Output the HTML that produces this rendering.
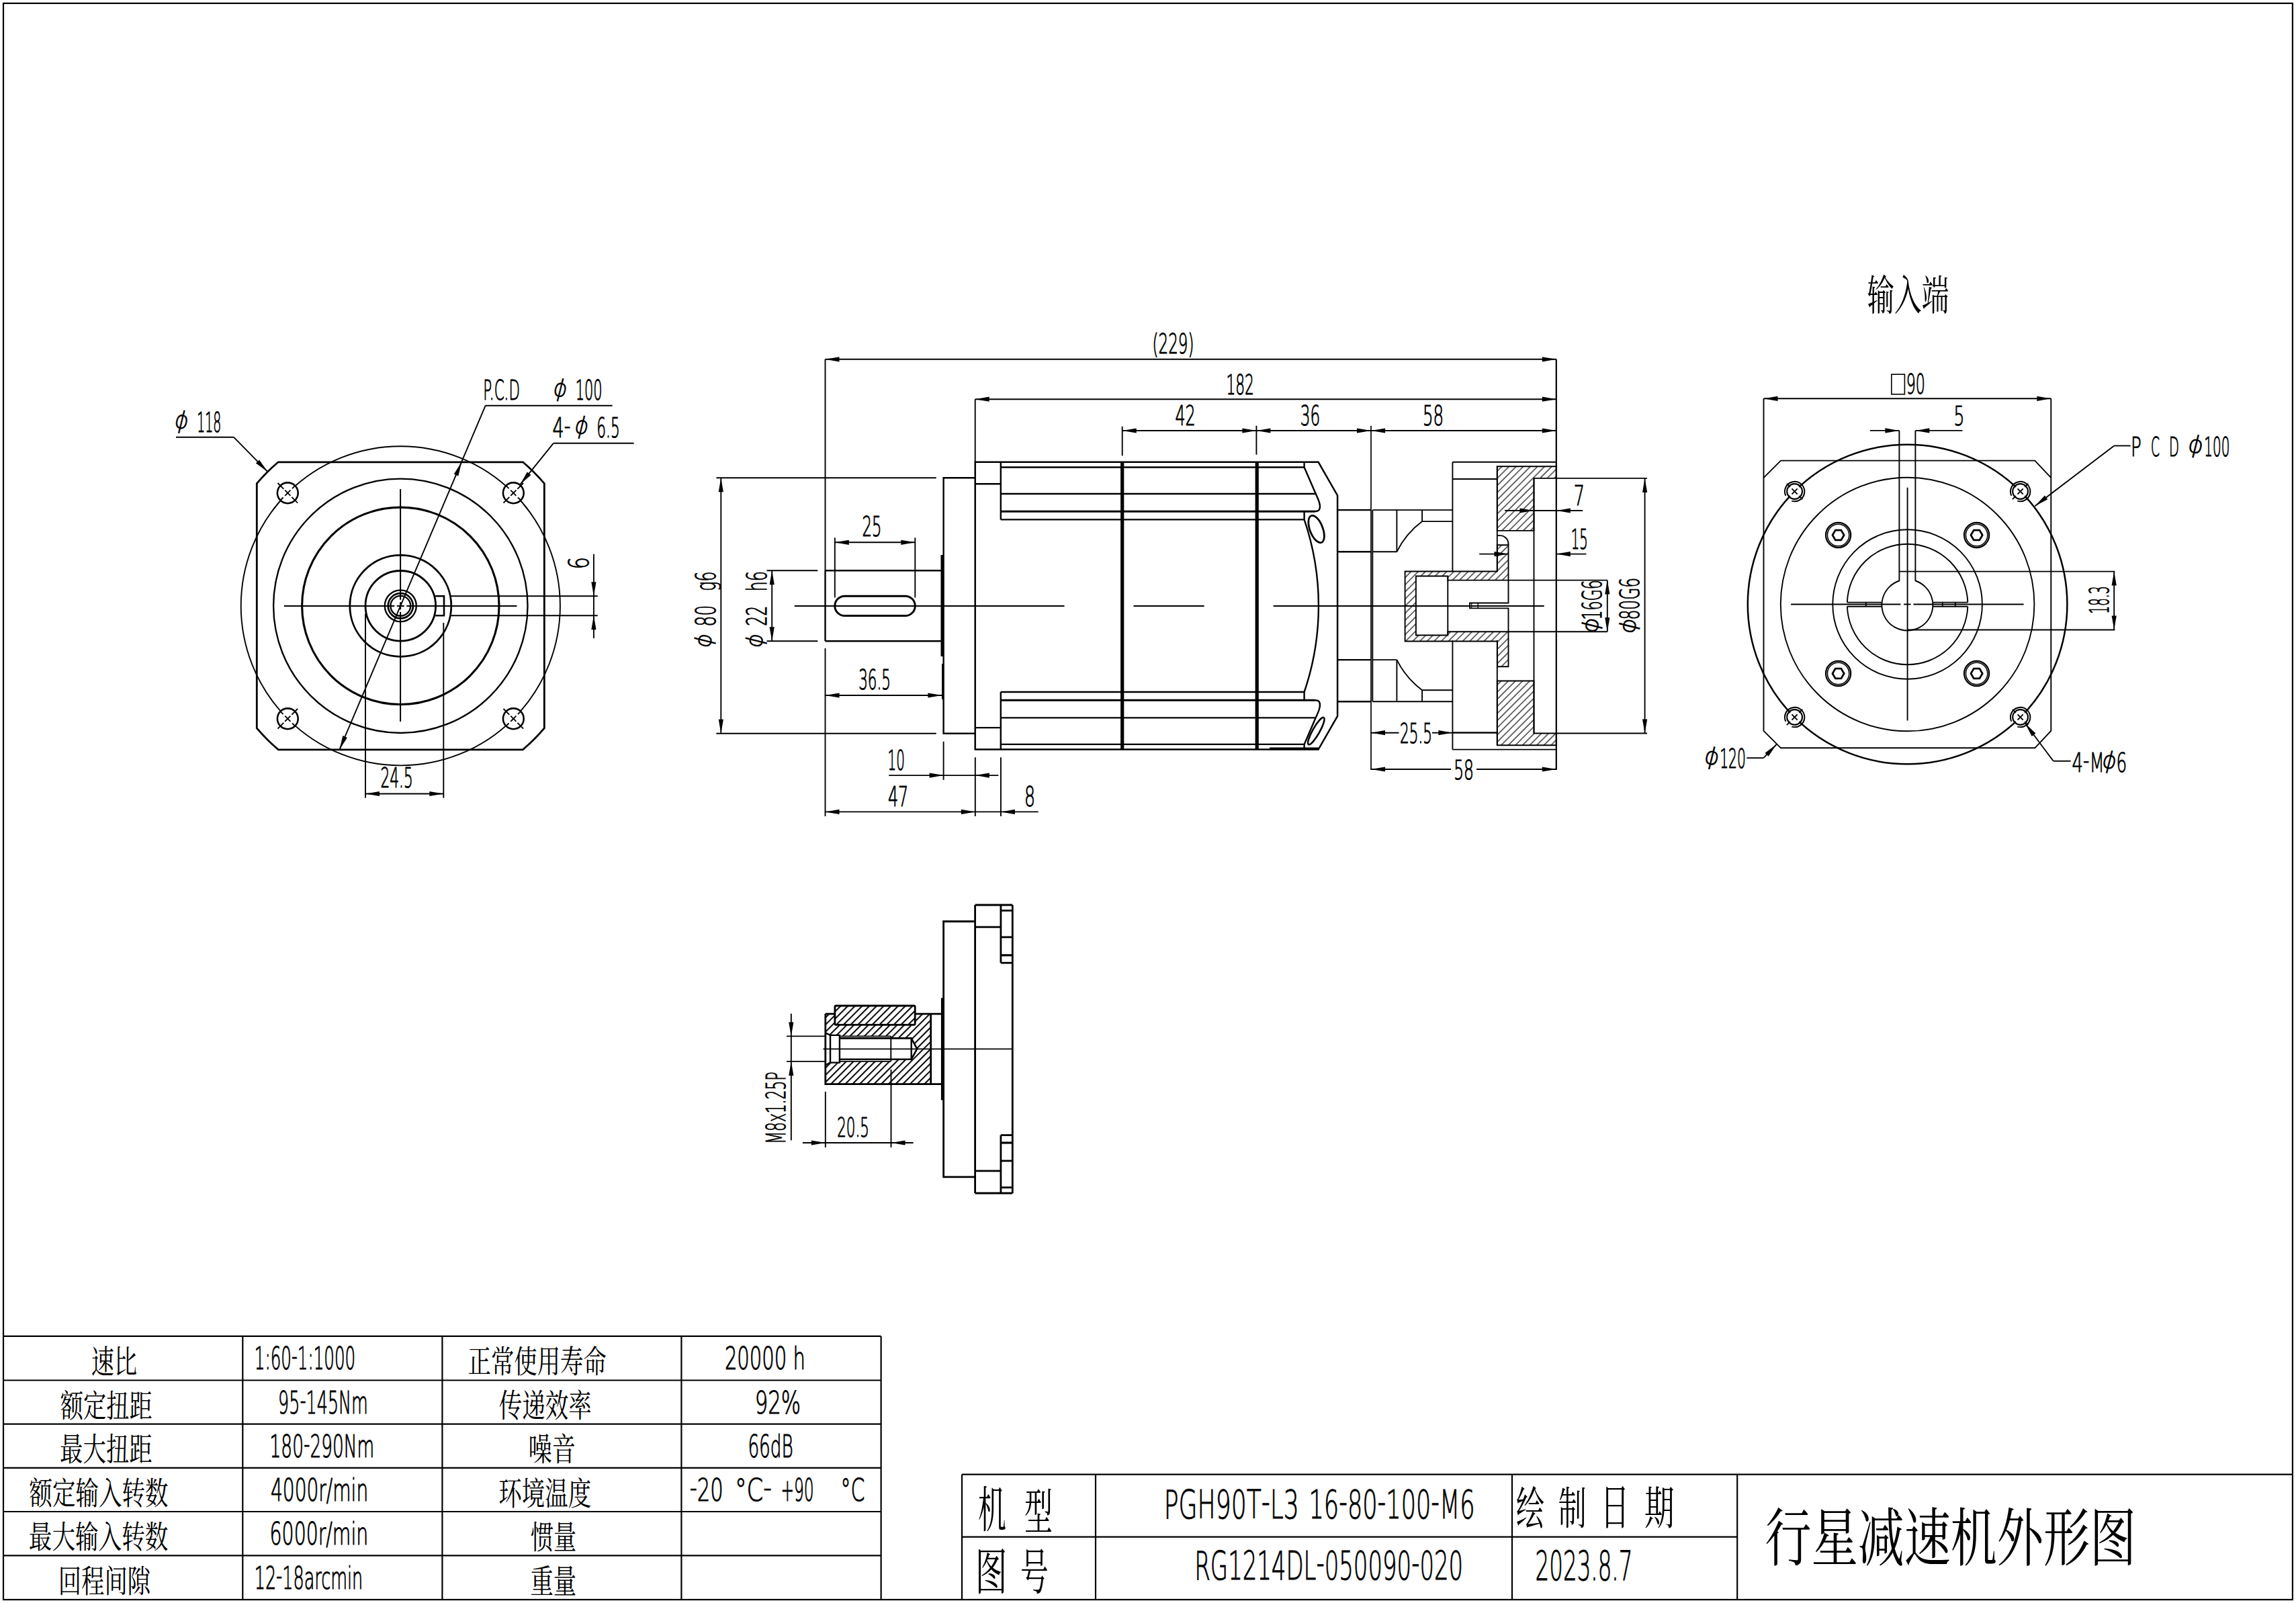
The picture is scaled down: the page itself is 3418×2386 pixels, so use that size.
<!DOCTYPE html>
<html lang="zh"><head><meta charset="utf-8"><title>行星减速机外形图</title>
<style>html,body{margin:0;padding:0;background:#fff}svg{display:block}.t{vector-effect:non-scaling-stroke;stroke:#000;fill:#000}</style></head>
<body>
<svg width="3418" height="2386" viewBox="0 0 3418 2386" fill="none" stroke="#000" stroke-linecap="butt" stroke-linejoin="miter">
<defs><pattern id="h1" width="7.5" height="7.5" patternUnits="userSpaceOnUse" patternTransform="rotate(45)"><path d="M2,0V7.5" stroke="#000" stroke-width="1.15"/></pattern><pattern id="h2" width="7.57" height="7.57" patternUnits="userSpaceOnUse" patternTransform="rotate(45)"><path d="M2,0V7.57" stroke="#000" stroke-width="2"/></pattern><pattern id="h3" width="7.57" height="7.57" patternUnits="userSpaceOnUse" patternTransform="rotate(45) translate(3.8,0)"><path d="M2,0V7.57" stroke="#000" stroke-width="2"/></pattern></defs>
<rect x="0" y="0" width="3418" height="2386" fill="#fff" stroke="none"/>
<rect x="5" y="4.9" width="3407.9" height="2376.1" stroke-width="2.2"/>
<path d="M414.2,687.8L778.4,687.8A281.0,281.0 0 0 1 810.3,719.7L810.3,1083.9A281.0,281.0 0 0 1 778.4,1115.8L414.2,1115.8A281.0,281.0 0 0 1 382.3,1083.9L382.3,719.7A281.0,281.0 0 0 1 414.2,687.8Z" stroke-width="2.8" fill="none" />
<circle cx="596.3" cy="901.8" r="237.6" stroke-width="1.9" fill="none" />
<circle cx="596.3" cy="901.8" r="189.2" stroke-width="2.35" fill="none" />
<circle cx="596.3" cy="901.8" r="146.7" stroke-width="3.1" fill="none" />
<circle cx="596.3" cy="901.8" r="75.5" stroke-width="2.8" fill="none" />
<circle cx="596.3" cy="901.8" r="52.3" stroke-width="2.8" fill="none" />
<circle cx="596.3" cy="901.8" r="23.5" stroke-width="2.3" fill="none" />
<circle cx="596.3" cy="901.8" r="18.6" stroke-width="2.7" fill="none" />
<circle cx="596.3" cy="901.8" r="14.9" stroke-width="2.3" fill="none" />
<circle cx="428.3" cy="733.8" r="15.4" stroke-width="2.6" fill="#fff" />
<path d="M443.1,748.6L434.3,739.8" stroke-width="1.9" />
<path d="M432.4,737.9L424.2,729.7" stroke-width="1.9" />
<path d="M422.3,727.8L413.5,719" stroke-width="1.9" />
<path d="M417.4,744.7L421.6,740.5" stroke-width="1.9" />
<path d="M424.2,737.9L432.4,729.7" stroke-width="1.9" />
<path d="M435,727.1L439.2,722.9" stroke-width="1.9" />
<circle cx="764.3" cy="733.8" r="15.4" stroke-width="2.6" fill="#fff" />
<path d="M749.5,748.6L758.3,739.8" stroke-width="1.9" />
<path d="M760.2,737.9L768.4,729.7" stroke-width="1.9" />
<path d="M770.3,727.8L779.1,719" stroke-width="1.9" />
<path d="M753.4,722.9L757.6,727.1" stroke-width="1.9" />
<path d="M760.2,729.7L768.4,737.9" stroke-width="1.9" />
<path d="M771,740.5L775.2,744.7" stroke-width="1.9" />
<circle cx="428.3" cy="1069.8" r="15.4" stroke-width="2.6" fill="#fff" />
<path d="M443.1,1055L434.3,1063.8" stroke-width="1.9" />
<path d="M432.4,1065.7L424.2,1073.9" stroke-width="1.9" />
<path d="M422.3,1075.8L413.5,1084.6" stroke-width="1.9" />
<path d="M439.2,1080.7L435,1076.5" stroke-width="1.9" />
<path d="M432.4,1073.9L424.2,1065.7" stroke-width="1.9" />
<path d="M421.6,1063.1L417.4,1058.9" stroke-width="1.9" />
<circle cx="764.3" cy="1069.8" r="15.4" stroke-width="2.6" fill="#fff" />
<path d="M749.5,1055L758.3,1063.8" stroke-width="1.9" />
<path d="M760.2,1065.7L768.4,1073.9" stroke-width="1.9" />
<path d="M770.3,1075.8L779.1,1084.6" stroke-width="1.9" />
<path d="M775.2,1058.9L771,1063.1" stroke-width="1.9" />
<path d="M768.4,1065.7L760.2,1073.9" stroke-width="1.9" />
<path d="M757.6,1076.5L753.4,1080.7" stroke-width="1.9" />
<path d="M648.2,887.3L661,887.3L661,916.2L648.2,916.2" stroke-width="2.6" fill="none" />
<path d="M422.9,902L587.3,902" stroke-width="2.0" />
<path d="M590.8,902L601.8,902" stroke-width="2.0" />
<path d="M605.3,902L769.5,902" stroke-width="2.0" />
<path d="M596.1,728L596.1,892.8" stroke-width="2.0" />
<path d="M596.1,896.3L596.1,907.3" stroke-width="2.0" />
<path d="M596.1,910.8L596.1,1074" stroke-width="2.0" />
<path d="M671,887.3L889.7,887.3" stroke-width="1.9" />
<path d="M671,916.2L889.7,916.2" stroke-width="1.9" />
<path d="M883.9,887.3L883.9,916.2" stroke-width="1.9" />
<path d="M883.9,887.3L880.3,866.3L887.5,866.3Z" fill="#000" stroke="none"/>
<path d="M883.9,916.2L887.5,937.2L880.3,937.2Z" fill="#000" stroke="none"/>
<path d="M883.9,824.7L883.9,887.3" stroke-width="1.9" />
<path d="M883.9,916.2L883.9,950" stroke-width="1.9" />
<path d="M544,913.4L544,1187.8" stroke-width="1.9" />
<path d="M660.3,927L660.3,1187.8" stroke-width="1.9" />
<path d="M544,1181.5L660.3,1181.5" stroke-width="1.9" />
<path d="M544,1181.5L565,1177.9L565,1185.1Z" fill="#000" stroke="none"/>
<path d="M660.3,1181.5L639.3,1185.1L639.3,1177.9Z" fill="#000" stroke="none"/>
<path d="M722.7,603.7L505.4,1115.8" stroke-width="1.9" />
<path d="M722.7,603.7L911.6,603.7" stroke-width="1.9" />
<path d="M687.2,687.8L682.3,708.5L675.7,705.7Z" fill="#000" stroke="none"/>
<path d="M505.4,1115.8L510.3,1095.1L516.9,1097.9Z" fill="#000" stroke="none"/>
<path d="M262,650.7L347.9,650.7" stroke-width="1.9" />
<path d="M347.9,650.7L398.2,701.9" stroke-width="1.9" />
<path d="M398.2,701.9L380.9,689.4L386.1,684.4Z" fill="#000" stroke="none"/>
<path d="M823.8,659.8L943.6,659.8" stroke-width="1.9" />
<path d="M823.8,659.8L774.4,721.1" stroke-width="1.9" />
<path d="M774.4,721.1L784.8,702.5L790.4,707Z" fill="#000" stroke="none"/>
<path d="M1228.5,849.2L1402.4,849.2" stroke-width="2.4" />
<path d="M1228.5,954.2L1402.4,954.2" stroke-width="2.4" />
<path d="M1228.5,849.2L1228.5,954.2" stroke-width="2.4" />
<path d="M1402.6,826L1402.6,977" stroke-width="4.2" />
<rect x="1242.8" y="887.2" width="119.5" height="29.4" rx="14.7" ry="14.7" stroke-width="3"/>
<path d="M1451.7,711.3L1404.6,711.3L1404.6,1091.8L1451.7,1091.8" stroke-width="2.4" fill="none" />
<path d="M1451.7,687.8L1962.6,687.8L1991.1,737.5L1991.1,1065.9L1962.6,1115.6L1451.7,1115.6Z" stroke-width="2.5" fill="none" />
<path d="M1489.8,687.8L1489.8,773.4" stroke-width="2.4" />
<path d="M1489.8,695.5L1941.6,695.5" stroke-width="2.4" />
<path d="M1451.7,720.3L1489.8,720.3" stroke-width="2.4" />
<path d="M1489.8,735L1958.8,735" stroke-width="2.4" />
<path d="M1489.8,761.2L1957,761.2" stroke-width="2.9" />
<path d="M1489.8,773.4L1941.6,773.4" stroke-width="2.4" />
<path d="M1941.6,687.8L1941.6,695.5" stroke-width="2.4" />
<path d="M1941.6,761.2L1941.6,773.4" stroke-width="2.4" />
<path d="M1941.6,695.5L1958.6,734.8C1962.5,743.5 1966.2,751 1964.6,757C1963.6,760.6 1961,761.2 1956,761.2" stroke-width="2.4" fill="none" />
<path d="M1489.8,1115.6L1489.8,1030" stroke-width="2.4" />
<path d="M1489.8,1107.9L1941.6,1107.9" stroke-width="2.4" />
<path d="M1451.7,1083.1L1489.8,1083.1" stroke-width="2.4" />
<path d="M1489.8,1068.4L1958.8,1068.4" stroke-width="2.4" />
<path d="M1489.8,1042.2L1957,1042.2" stroke-width="2.9" />
<path d="M1489.8,1030L1941.6,1030" stroke-width="2.4" />
<path d="M1941.6,1115.6L1941.6,1107.9" stroke-width="2.4" />
<path d="M1941.6,1042.2L1941.6,1030" stroke-width="2.4" />
<path d="M1941.6,1107.9L1958.6,1068.6C1962.5,1059.9 1966.2,1052.4 1964.6,1046.4C1963.6,1042.8 1961,1042.2 1956,1042.2" stroke-width="2.4" fill="none" />
<path d="M1890,1114.4L1962.8,1114.4" stroke-width="3.8" />
<path d="M1670.7,687.8L1670.7,1115.6" stroke-width="5.2" />
<path d="M1871.2,687.8L1871.2,1115.6" stroke-width="5.2" />
<path d="M1941.6,773.4A396.5,396.5 0 0 1 1941.6,1030" stroke-width="2.4" fill="none" />
<ellipse cx="1959.6" cy="787.6" rx="9.6" ry="21.3" transform="rotate(-21 1959.6 787.6)" stroke-width="2.8"/>
<ellipse cx="1959.3" cy="1088.1" rx="5.2" ry="23" transform="rotate(29.5 1959.3 1088.1)" stroke-width="2.6"/>
<path d="M1991.1,759.1L2041,759.1" stroke-width="2.4" />
<path d="M1991.1,821.3L2041,821.3" stroke-width="2.4" />
<path d="M2043.3,759.1L2162.4,759.1" stroke-width="1.9" />
<path d="M2079.4,759.1L2079.4,821.3" stroke-width="1.9" />
<path d="M2043.3,821.3L2079.4,821.3" stroke-width="1.9" />
<path d="M2079.4,821.3Q2092.8,794.3 2117.1,776.1" stroke-width="1.9" fill="none" />
<path d="M2117.1,776.1L2162.4,776.1" stroke-width="1.9" />
<path d="M2117.1,759.1L2117.1,776.1" stroke-width="1.9" />
<path d="M2162.4,687.8L2162.4,850.5" stroke-width="1.9" />
<path d="M2162.4,687.8L2316.8,687.8" stroke-width="1.9" />
<path d="M2162.4,713L2228.8,713" stroke-width="1.9" />
<path d="M2228.8,694.2L2228.8,850.5" stroke-width="1.9" />
<path d="M2228.8,694.2L2316.8,694.2L2316.8,711.9L2283.5,711.9L2283.5,789.9L2228.8,789.9Z" stroke-width="1.9" fill="url(#h1)" />
<path d="M1991.1,1044.3L2041,1044.3" stroke-width="2.4" />
<path d="M1991.1,982.1L2041,982.1" stroke-width="2.4" />
<path d="M2043.3,1044.3L2162.4,1044.3" stroke-width="1.9" />
<path d="M2079.4,1044.3L2079.4,982.1" stroke-width="1.9" />
<path d="M2043.3,982.1L2079.4,982.1" stroke-width="1.9" />
<path d="M2079.4,982.1Q2092.8,1009.1 2117.1,1027.3" stroke-width="1.9" fill="none" />
<path d="M2117.1,1027.3L2162.4,1027.3" stroke-width="1.9" />
<path d="M2117.1,1044.3L2117.1,1027.3" stroke-width="1.9" />
<path d="M2162.4,1115.6L2162.4,952.9" stroke-width="1.9" />
<path d="M2162.4,1115.6L2316.8,1115.6" stroke-width="1.9" />
<path d="M2162.4,1090.4L2228.8,1090.4" stroke-width="1.9" />
<path d="M2228.8,1109.2L2228.8,952.9" stroke-width="1.9" />
<path d="M2228.8,1109.2L2316.8,1109.2L2316.8,1091.5L2283.5,1091.5L2283.5,1013.5L2228.8,1013.5Z" stroke-width="1.9" fill="url(#h1)" />
<path d="M2043.3,759.1L2043.3,1044.3" stroke-width="1.9" />
<path d="M2041,633.7L2041,1146" stroke-width="1.7" />
<path d="M2283.5,711.9L2283.5,1091.5" stroke-width="1.9" />
<path d="M2316.8,534.8L2316.8,1146" stroke-width="2.2" />
<path d="M2091.6,850.5L2228.8,850.5L2228.8,811.2L2245.5,811.2L2245.5,863.6L2155.3,863.6L2155.3,857.5L2107.9,857.5L2107.9,945.5L2155.3,945.5L2155.3,940.2L2245.5,940.2L2245.5,992.2L2229,992.2L2229,954.5L2091.6,954.5Z" stroke-width="1.9" fill="url(#h1)" />
<path d="M2155.3,857.5L2155.3,945.5" stroke-width="1.9" />
<path d="M2245.5,863.6L2245.5,897.5L2188,897.5L2188,905.4L2245.5,905.4L2245.5,940.2" stroke-width="1.9" fill="none" />
<path d="M2190.7,897.5L2190.7,905.4" stroke-width="1.2" />
<path d="M2200.2,897.5L2200.2,905.4" stroke-width="1.4" />
<path d="M2228.8,797.1H2233A12.5,12.5 0 0 1 2245.5,809.6V811.2" stroke-width="1.9" fill="none" />
<path d="M1182.7,902L1584.5,902" stroke-width="1.9" />
<path d="M1687.5,902L1792.6,902" stroke-width="1.9" />
<path d="M1895.6,902L2298.7,902" stroke-width="1.9" />
<path d="M1228.5,534.8L1228.5,849.2" stroke-width="1.9" />
<path d="M1228.5,534.8L2316.8,534.8" stroke-width="1.9" />
<path d="M1228.5,534.8L1249.5,531.2L1249.5,538.4Z" fill="#000" stroke="none"/>
<path d="M2316.8,534.8L2295.8,538.4L2295.8,531.2Z" fill="#000" stroke="none"/>
<path d="M1451.7,594.2L1451.7,687.8" stroke-width="1.9" />
<path d="M1451.7,594.2L2316.8,594.2" stroke-width="1.9" />
<path d="M1451.7,594.2L1472.7,590.6L1472.7,597.8Z" fill="#000" stroke="none"/>
<path d="M2316.8,594.2L2295.8,597.8L2295.8,590.6Z" fill="#000" stroke="none"/>
<path d="M1670.7,634.8L1670.7,678.4" stroke-width="1.9" />
<path d="M1870.4,633.7L1870.4,676.7" stroke-width="1.9" />
<path d="M1670.7,641L1870.4,641" stroke-width="1.9" />
<path d="M1670.7,641L1691.7,637.4L1691.7,644.6Z" fill="#000" stroke="none"/>
<path d="M1870.4,641L1849.4,644.6L1849.4,637.4Z" fill="#000" stroke="none"/>
<path d="M1870.4,641L2041,641" stroke-width="1.9" />
<path d="M1870.4,641L1891.4,637.4L1891.4,644.6Z" fill="#000" stroke="none"/>
<path d="M2041,641L2020,644.6L2020,637.4Z" fill="#000" stroke="none"/>
<path d="M2041,641L2316.8,641" stroke-width="1.9" />
<path d="M2041,641L2062,637.4L2062,644.6Z" fill="#000" stroke="none"/>
<path d="M2316.8,641L2295.8,644.6L2295.8,637.4Z" fill="#000" stroke="none"/>
<path d="M1242.8,800.3L1242.8,889.4" stroke-width="1.9" />
<path d="M1362.3,800.3L1362.3,889.4" stroke-width="1.9" />
<path d="M1242.8,807.3L1362.3,807.3" stroke-width="1.9" />
<path d="M1242.8,807.3L1263.8,803.7L1263.8,810.9Z" fill="#000" stroke="none"/>
<path d="M1362.3,807.3L1341.3,810.9L1341.3,803.7Z" fill="#000" stroke="none"/>
<path d="M1141.5,849.2L1217.3,849.2" stroke-width="1.9" />
<path d="M1141.5,954.2L1217.3,954.2" stroke-width="1.9" />
<path d="M1149.2,849.2L1149.2,954.2" stroke-width="1.9" />
<path d="M1149.2,849.2L1152.8,870.2L1145.6,870.2Z" fill="#000" stroke="none"/>
<path d="M1149.2,954.2L1145.6,933.2L1152.8,933.2Z" fill="#000" stroke="none"/>
<path d="M1066.4,711.3L1393.7,711.3" stroke-width="1.9" />
<path d="M1066.4,1091.8L1393.7,1091.8" stroke-width="1.9" />
<path d="M1073.3,711.3L1073.3,1091.8" stroke-width="1.9" />
<path d="M1073.3,711.3L1076.9,732.3L1069.7,732.3Z" fill="#000" stroke="none"/>
<path d="M1073.3,1091.8L1069.7,1070.8L1076.9,1070.8Z" fill="#000" stroke="none"/>
<path d="M1228.5,965L1228.5,1215" stroke-width="1.9" />
<path d="M1403,988L1403,1041" stroke-width="1.9" />
<path d="M1228.5,1035L1402.4,1035" stroke-width="1.9" />
<path d="M1228.5,1035L1249.5,1031.4L1249.5,1038.6Z" fill="#000" stroke="none"/>
<path d="M1402.4,1035L1381.4,1038.6L1381.4,1031.4Z" fill="#000" stroke="none"/>
<path d="M1404.6,1103.8L1404.6,1160.8" stroke-width="1.9" />
<path d="M1451.8,1127.3L1451.8,1215" stroke-width="1.9" />
<path d="M1323.2,1154.1L1486.3,1154.1" stroke-width="1.9" />
<path d="M1404.6,1154.1L1383.6,1157.7L1383.6,1150.5Z" fill="#000" stroke="none"/>
<path d="M1451.8,1154.1L1472.8,1150.5L1472.8,1157.7Z" fill="#000" stroke="none"/>
<path d="M1228.5,1208.4L1451.8,1208.4" stroke-width="1.9" />
<path d="M1228.5,1208.4L1249.5,1204.8L1249.5,1212Z" fill="#000" stroke="none"/>
<path d="M1451.8,1208.4L1430.8,1212L1430.8,1204.8Z" fill="#000" stroke="none"/>
<path d="M1489.9,1127.3L1489.9,1215" stroke-width="1.9" />
<path d="M1451.8,1208.4L1545.7,1208.4" stroke-width="1.9" />
<path d="M1489.9,1208.4L1510.9,1204.8L1510.9,1212Z" fill="#000" stroke="none"/>
<path d="M2240.2,760L2356.2,760" stroke-width="1.9" />
<path d="M2283.5,760L2262.5,763.6L2262.5,756.4Z" fill="#000" stroke="none"/>
<path d="M2316.8,760L2337.8,756.4L2337.8,763.6Z" fill="#000" stroke="none"/>
<path d="M2202.2,824.6L2245.5,824.6" stroke-width="1.9" />
<path d="M2245.5,824.6L2224.5,828.2L2224.5,821Z" fill="#000" stroke="none"/>
<path d="M2316.8,824.6L2361.4,824.6" stroke-width="1.9" />
<path d="M2316.8,824.6L2337.8,821L2337.8,828.2Z" fill="#000" stroke="none"/>
<path d="M2245.5,863.6L2392.8,863.6" stroke-width="1.9" />
<path d="M2245.5,940.2L2392.8,940.2" stroke-width="1.9" />
<path d="M2392.8,863.6L2392.8,940.2" stroke-width="1.9" />
<path d="M2392.8,863.6L2396.4,884.6L2389.2,884.6Z" fill="#000" stroke="none"/>
<path d="M2392.8,940.2L2389.2,919.2L2396.4,919.2Z" fill="#000" stroke="none"/>
<path d="M2316.8,711.9L2452,711.9" stroke-width="1.9" />
<path d="M2316.8,1091.5L2452,1091.5" stroke-width="1.9" />
<path d="M2448.6,711.9L2448.6,1091.5" stroke-width="1.9" />
<path d="M2448.6,711.9L2452.2,732.9L2445,732.9Z" fill="#000" stroke="none"/>
<path d="M2448.6,1091.5L2445,1070.5L2452.2,1070.5Z" fill="#000" stroke="none"/>
<path d="M2162.4,1090.7L2230,1090.7" stroke-width="1.9" />
<path d="M2041,1090.7L2082.5,1090.7" stroke-width="1.9" />
<path d="M2132,1090.7L2162.4,1090.7" stroke-width="1.9" />
<path d="M2041,1090.7L2062,1087.1L2062,1094.3Z" fill="#000" stroke="none"/>
<path d="M2162.4,1090.7L2141.4,1094.3L2141.4,1087.1Z" fill="#000" stroke="none"/>
<path d="M2041,1145L2160,1145" stroke-width="1.9" />
<path d="M2198,1145L2316.8,1145" stroke-width="1.9" />
<path d="M2041,1145L2062,1141.4L2062,1148.6Z" fill="#000" stroke="none"/>
<path d="M2316.8,1145L2295.8,1148.6L2295.8,1141.4Z" fill="#000" stroke="none"/>
<path d="M2651,685.6L3029.3,685.6L3053.3,711.1L3053.3,1087.8L3029.3,1113.3L2651,1113.3L2625.5,1087.8L2625.5,711.1Z" stroke-width="1.9" fill="none" />
<circle cx="2839.6" cy="899.5" r="237.8" stroke-width="2.5" fill="none" />
<circle cx="2839.6" cy="899.5" r="188.8" stroke-width="1.9" fill="none" />
<circle cx="2839.6" cy="899.5" r="111.3" stroke-width="1.9" fill="none" />
<path d="M2749.847,896.6A89.8,89.8 0 0 1 2929.353,896.6" stroke-width="1.9" fill="none" />
<path d="M2749.861,902.8A89.8,89.8 0 0 0 2929.339,902.8" stroke-width="1.9" fill="none" />
<path d="M2749.8,896.6L2801.7,896.6" stroke-width="1.9" />
<path d="M2749.9,902.8L2801.7,902.8" stroke-width="1.9" />
<path d="M2929.4,896.6L2877.5,896.6" stroke-width="1.9" />
<path d="M2929.3,902.8L2877.5,902.8" stroke-width="1.9" />
<path d="M2777.8,896.6L2777.8,902.8" stroke-width="1.9" />
<path d="M2891.8,896.6L2891.8,902.8" stroke-width="1.9" />
<path d="M2910.8,896.6L2910.8,902.8" stroke-width="1.9" />
<path d="M2827.4,864.5A38.0,38.0 0 1 0 2851.4,864.5" stroke-width="1.9" fill="none" />
<path d="M2827.4,640.9L2827.4,865" stroke-width="1.9" />
<path d="M2851.4,640.9L2851.4,865" stroke-width="1.9" />
<circle cx="2736.6" cy="796.5" r="18.6" stroke-width="2.2" fill="none" />
<circle cx="2736.6" cy="796.5" r="16.2" stroke-width="1.6" fill="none" />
<path d="M2745.2,796.5L2740.9,803.9L2732.3,803.9L2728,796.5L2732.3,789.1L2740.9,789.1Z" stroke-width="2.8" fill="none" stroke-linejoin="round"/>
<circle cx="2736.6" cy="1002.5" r="18.6" stroke-width="2.2" fill="none" />
<circle cx="2736.6" cy="1002.5" r="16.2" stroke-width="1.6" fill="none" />
<path d="M2745.2,1002.5L2740.9,1009.9L2732.3,1009.9L2728,1002.5L2732.3,995.1L2740.9,995.1Z" stroke-width="2.8" fill="none" stroke-linejoin="round"/>
<circle cx="2942.6" cy="796.5" r="18.6" stroke-width="2.2" fill="none" />
<circle cx="2942.6" cy="796.5" r="16.2" stroke-width="1.6" fill="none" />
<path d="M2951.2,796.5L2946.9,803.9L2938.3,803.9L2934,796.5L2938.3,789.1L2946.9,789.1Z" stroke-width="2.8" fill="none" stroke-linejoin="round"/>
<circle cx="2942.6" cy="1002.5" r="18.6" stroke-width="2.2" fill="none" />
<circle cx="2942.6" cy="1002.5" r="16.2" stroke-width="1.6" fill="none" />
<path d="M2951.2,1002.5L2946.9,1009.9L2938.3,1009.9L2934,1002.5L2938.3,995.1L2946.9,995.1Z" stroke-width="2.8" fill="none" stroke-linejoin="round"/>
<circle cx="2671.6" cy="731.5" r="9.5" stroke-width="0" fill="#fff" stroke="none"/>
<circle cx="2671.6" cy="731.5" r="11.4" stroke-width="2.1" fill="none" />
<path d="M2658.4,737.9A14.7,14.7 0 1 1 2667.3,745.6" stroke-width="2" fill="none" />
<path d="M2683.3,743.2L2678.3,738.2" stroke-width="1.9" />
<path d="M2675.7,735.6L2667.5,727.4" stroke-width="1.9" />
<path d="M2664.9,724.8L2659.9,719.8" stroke-width="1.9" />
<path d="M2667.5,735.6L2675.7,727.4" stroke-width="1.9" />
<circle cx="3007.6" cy="731.5" r="9.5" stroke-width="0" fill="#fff" stroke="none"/>
<circle cx="3007.6" cy="731.5" r="11.4" stroke-width="2.1" fill="none" />
<path d="M2994.4,737.9A14.7,14.7 0 1 1 3003.3,745.6" stroke-width="2" fill="none" />
<path d="M2995.9,743.2L3000.9,738.2" stroke-width="1.9" />
<path d="M3003.5,735.6L3011.7,727.4" stroke-width="1.9" />
<path d="M3014.3,724.8L3019.3,719.8" stroke-width="1.9" />
<path d="M3003.5,727.4L3011.7,735.6" stroke-width="1.9" />
<circle cx="2671.6" cy="1067.5" r="9.5" stroke-width="0" fill="#fff" stroke="none"/>
<circle cx="2671.6" cy="1067.5" r="11.4" stroke-width="2.1" fill="none" />
<path d="M2658.4,1073.9A14.7,14.7 0 1 1 2667.3,1081.6" stroke-width="2" fill="none" />
<path d="M2683.3,1055.8L2678.3,1060.8" stroke-width="1.9" />
<path d="M2675.7,1063.4L2667.5,1071.6" stroke-width="1.9" />
<path d="M2664.9,1074.2L2659.9,1079.2" stroke-width="1.9" />
<path d="M2675.7,1071.6L2667.5,1063.4" stroke-width="1.9" />
<circle cx="3007.6" cy="1067.5" r="9.5" stroke-width="0" fill="#fff" stroke="none"/>
<circle cx="3007.6" cy="1067.5" r="11.4" stroke-width="2.1" fill="none" />
<path d="M2994.4,1073.9A14.7,14.7 0 1 1 3003.3,1081.6" stroke-width="2" fill="none" />
<path d="M2995.9,1055.8L3000.9,1060.8" stroke-width="1.9" />
<path d="M3003.5,1063.4L3011.7,1071.6" stroke-width="1.9" />
<path d="M3014.3,1074.2L3019.3,1079.2" stroke-width="1.9" />
<path d="M3011.7,1063.4L3003.5,1071.6" stroke-width="1.9" />
<path d="M2666.1,899.5L2829.5,899.5" stroke-width="1.9" />
<path d="M2834.1,899.5L2844.6,899.5" stroke-width="1.9" />
<path d="M2848.5,899.5L3012.6,899.5" stroke-width="1.9" />
<path d="M2839.6,725.8L2839.6,1072.5" stroke-width="1.9" />
<path d="M2625.5,593.3L2625.5,711.1" stroke-width="1.9" />
<path d="M3053.3,593.3L3053.3,711.1" stroke-width="1.9" />
<path d="M2625.5,593.3L3053.3,593.3" stroke-width="1.9" />
<path d="M2625.5,593.3L2646.5,589.7L2646.5,596.9Z" fill="#000" stroke="none"/>
<path d="M3053.3,593.3L3032.3,596.9L3032.3,589.7Z" fill="#000" stroke="none"/>
<rect x="2815.8" y="557.2" width="19.6" height="29.6" stroke-width="1.6"/>
<path d="M2783.9,640.9L2827.4,640.9" stroke-width="1.9" />
<path d="M2827.4,640.9L2806.4,644.5L2806.4,637.3Z" fill="#000" stroke="none"/>
<path d="M2851.4,640.9L2921.5,640.9" stroke-width="1.9" />
<path d="M2851.4,640.9L2872.4,637.3L2872.4,644.5Z" fill="#000" stroke="none"/>
<path d="M2827.4,850.6L3148.3,850.6" stroke-width="1.9" />
<path d="M2839.6,937.5L3148.3,937.5" stroke-width="1.9" />
<path d="M3147.2,850.6L3147.2,937.5" stroke-width="1.9" />
<path d="M3147.2,850.6L3150.8,871.6L3143.6,871.6Z" fill="#000" stroke="none"/>
<path d="M3147.2,937.5L3143.6,916.5L3150.8,916.5Z" fill="#000" stroke="none"/>
<path d="M3029.4,753.2L3147.2,663.5" stroke-width="1.9" />
<path d="M3147.2,663.5L3171.7,663.5" stroke-width="1.9" />
<path d="M3029.4,753.2L3043.9,737.6L3048.3,743.3Z" fill="#000" stroke="none"/>
<path d="M2600.3,1128.2L2625.4,1128.2" stroke-width="1.9" />
<path d="M2625.4,1128.2L2644.6,1108" stroke-width="1.9" />
<path d="M2644.6,1108L2632.7,1125.7L2627.5,1120.7Z" fill="#000" stroke="none"/>
<path d="M3015,1077L3056.8,1132.8" stroke-width="1.9" />
<path d="M3056.8,1132.8L3082.6,1132.8" stroke-width="1.9" />
<path d="M3015,1077L3030.5,1091.6L3024.7,1096Z" fill="#000" stroke="none"/>
<path d="M1451.6,1371.5L1404.6,1371.5L1404.6,1751.9L1451.6,1751.9" stroke-width="2.8" fill="none" />
<path d="M1451.6,1347L1451.6,1776" stroke-width="2.8" />
<path d="M1451.6,1347L1507.3,1347" stroke-width="2.8" />
<path d="M1451.6,1776L1507.3,1776" stroke-width="2.8" />
<path d="M1507.3,1347L1507.3,1776" stroke-width="2.8" />
<path d="M1489.9,1347L1489.9,1433.2" stroke-width="2.8" />
<path d="M1451.6,1379.9L1489.9,1379.9" stroke-width="2.8" />
<path d="M1489.9,1355.3L1507.3,1355.3" stroke-width="2.8" />
<path d="M1489.9,1394.9L1507.3,1394.9" stroke-width="2.8" />
<path d="M1489.9,1421.8L1507.3,1421.8" stroke-width="3.2" />
<path d="M1489.9,1433.2L1507.3,1433.2" stroke-width="2.8" />
<path d="M1489.9,1775.8L1489.9,1689.6" stroke-width="2.8" />
<path d="M1451.6,1742.9L1489.9,1742.9" stroke-width="2.8" />
<path d="M1489.9,1767.5L1507.3,1767.5" stroke-width="2.8" />
<path d="M1489.9,1727.9L1507.3,1727.9" stroke-width="2.8" />
<path d="M1489.9,1701L1507.3,1701" stroke-width="3.2" />
<path d="M1489.9,1689.6L1507.3,1689.6" stroke-width="2.8" />
<path d="M1228.8,1509.1L1385.7,1509.1L1385.7,1613.6L1228.8,1613.6Z" stroke-width="0" fill="url(#h2)" stroke="none"/>
<path d="M1228.8,1537.4L1236,1540.9L1249.9,1540.9L1249.9,1542.4L1326.3,1542.4L1326.3,1545.4L1356.7,1545.4L1365.2,1561.2L1356.7,1576.8L1326.3,1576.8L1326.3,1579.9L1249.9,1579.9L1249.9,1581.6L1236,1581.6L1228.8,1585.2Z" stroke-width="0" fill="#fff" stroke="none"/>
<rect x="1242.9" y="1497" width="119.3" height="28.4" fill="#fff" stroke="none"/>
<rect x="1242.9" y="1497" width="119.3" height="28.4" rx="1.5" fill="url(#h3)" stroke-width="2.8"/>
<path d="M1228.8,1509.1L1228.8,1613.6L1403,1613.6" stroke-width="2.8" fill="none" />
<path d="M1228.8,1509.1L1242.9,1509.1" stroke-width="2.8" />
<path d="M1362.2,1509.1L1403,1509.1" stroke-width="2.8" />
<path d="M1385.7,1509.1L1385.7,1613.6" stroke-width="2.8" />
<path d="M1228.8,1537.4L1236,1540.9L1249.9,1540.9L1249.9,1581.6L1236,1581.6L1228.8,1585.2" stroke-width="2.4" fill="none" />
<path d="M1236,1540.9L1236,1581.6" stroke-width="2.4" />
<path d="M1249.9,1542.4L1326.3,1542.4" stroke-width="1.9" />
<path d="M1249.9,1579.9L1326.3,1579.9" stroke-width="1.9" />
<path d="M1249.9,1545.4L1356.7,1545.4L1365.2,1561.2L1356.7,1576.8L1249.9,1576.8" stroke-width="2.6" fill="none" />
<path d="M1356.7,1545.4L1356.7,1576.8" stroke-width="2.4" />
<path d="M1326.3,1542.4L1326.3,1579.9" stroke-width="1.9" />
<path d="M1403,1485.6L1403,1637.5" stroke-width="4.2" />
<path d="M1225.4,1561.4L1507.3,1561.4" stroke-width="1.9" />
<path d="M1170.9,1542.4L1228.8,1542.4" stroke-width="1.9" />
<path d="M1170.9,1579.9L1228.8,1579.9" stroke-width="1.9" />
<path d="M1177.8,1508.7L1177.8,1697.4" stroke-width="1.9" />
<path d="M1177.8,1542.4L1174.2,1521.4L1181.4,1521.4Z" fill="#000" stroke="none"/>
<path d="M1177.8,1579.9L1181.4,1600.9L1174.2,1600.9Z" fill="#000" stroke="none"/>
<path d="M1228.8,1624.9L1228.8,1707.9" stroke-width="1.9" />
<path d="M1326.5,1591.8L1326.5,1707.9" stroke-width="1.9" />
<path d="M1194.9,1701L1359.6,1701" stroke-width="1.9" />
<path d="M1228.8,1701L1207.8,1704.6L1207.8,1697.4Z" fill="#000" stroke="none"/>
<path d="M1326.5,1701L1347.5,1697.4L1347.5,1704.6Z" fill="#000" stroke="none"/>
<path d="M5,1988.9L1311.6,1988.9" stroke-width="2.2" />
<path d="M5,2054.5L1311.6,2054.5" stroke-width="2.2" />
<path d="M5,2119.6L1311.6,2119.6" stroke-width="2.2" />
<path d="M5,2184.9L1311.6,2184.9" stroke-width="2.2" />
<path d="M5,2250L1311.6,2250" stroke-width="2.2" />
<path d="M5,2315.4L1311.6,2315.4" stroke-width="2.2" />
<path d="M361.3,1988.9L361.3,2381" stroke-width="2.2" />
<path d="M658.4,1988.9L658.4,2381" stroke-width="2.2" />
<path d="M1014.4,1988.9L1014.4,2381" stroke-width="2.2" />
<path d="M1311.6,1988.9L1311.6,2381" stroke-width="2.2" />
<path d="M1432,2194.6L3412.9,2194.6" stroke-width="2.2" />
<path d="M1432,2194.6L1432,2381" stroke-width="2.2" />
<path d="M1631,2194.6L1631,2381" stroke-width="2.2" />
<path d="M2251,2194.6L2251,2381" stroke-width="2.2" />
<path d="M2586.2,2194.6L2586.2,2381" stroke-width="2.2" />
<path d="M1432,2287.7L2586.2,2287.7" stroke-width="2.2" />
<text transform="translate(875.5,844.3) rotate(-90) scale(0.7096,1)" x="-4" font-size="40.4" font-family="'DejaVu Sans', 'Liberation Sans', sans-serif" font-weight="200" stroke-width="0.9" class="t" xml:space="preserve">6</text>
<text transform="translate(566.5,1172.3) scale(0.5361,1)" font-size="40.4" font-family="'DejaVu Sans', 'Liberation Sans', sans-serif" font-weight="200" stroke-width="0.9" class="t" xml:space="preserve">24.5</text>
<text transform="translate(719.3,595.3) scale(0.5298,1)" font-size="40.4" font-family="'DejaVu Sans', 'Liberation Sans', sans-serif" font-weight="200" stroke-width="0.9" class="t" xml:space="preserve">P.C.D</text>
<text transform="translate(833.9,580.5) rotate(14) scale(0.8724,1) translate(-11.7,9.6)" font-size="35.5" font-family="'DejaVu Sans', 'Liberation Sans', sans-serif" font-weight="200" stroke-width="0.9" class="t">ϕ</text>
<text transform="translate(856.8,595.3) scale(0.5168,1)" font-size="40.4" font-family="'DejaVu Sans', 'Liberation Sans', sans-serif" font-weight="200" stroke-width="0.9" class="t" xml:space="preserve">100</text>
<text transform="translate(270.2,628) rotate(14) scale(0.8724,1) translate(-11.7,9.6)" font-size="35.5" font-family="'DejaVu Sans', 'Liberation Sans', sans-serif" font-weight="200" stroke-width="0.9" class="t">ϕ</text>
<text transform="translate(293.3,642.5) scale(0.4660,1)" font-size="40.4" font-family="'DejaVu Sans', 'Liberation Sans', sans-serif" font-weight="200" stroke-width="0.9" class="t" xml:space="preserve">118</text>
<text transform="translate(822.6,650.8) scale(0.6629,1)" font-size="40.4" font-family="'DejaVu Sans', 'Liberation Sans', sans-serif" font-weight="200" stroke-width="0.9" class="t" xml:space="preserve">4<tspan dy="-3.5">-</tspan></text>
<text transform="translate(865.8,636) rotate(14) scale(0.8780,1) translate(-11.7,9.6)" font-size="35.5" font-family="'DejaVu Sans', 'Liberation Sans', sans-serif" font-weight="200" stroke-width="0.9" class="t">ϕ</text>
<text transform="translate(888.3,650.8) scale(0.5363,1)" font-size="40.4" font-family="'DejaVu Sans', 'Liberation Sans', sans-serif" font-weight="200" stroke-width="0.9" class="t" xml:space="preserve">6.5</text>
<text transform="translate(1715.5,526) scale(0.5699,1)" font-size="40.4" font-family="'DejaVu Sans', 'Liberation Sans', sans-serif" font-weight="200" stroke-width="0.9" class="t" xml:space="preserve">(229)</text>
<text transform="translate(1825.4,587.4) scale(0.5388,1)" font-size="40.4" font-family="'DejaVu Sans', 'Liberation Sans', sans-serif" font-weight="200" stroke-width="0.9" class="t" xml:space="preserve">182</text>
<text transform="translate(1749.5,633.1) scale(0.5822,1)" font-size="40.8" font-family="'DejaVu Sans', 'Liberation Sans', sans-serif" font-weight="200" stroke-width="0.9" class="t" xml:space="preserve">42</text>
<text transform="translate(1935.7,633.1) scale(0.5676,1)" font-size="40.8" font-family="'DejaVu Sans', 'Liberation Sans', sans-serif" font-weight="200" stroke-width="0.9" class="t" xml:space="preserve">36</text>
<text transform="translate(2118,633.1) scale(0.6015,1)" font-size="40.8" font-family="'DejaVu Sans', 'Liberation Sans', sans-serif" font-weight="200" stroke-width="0.9" class="t" xml:space="preserve">58</text>
<text transform="translate(1283.6,798.1) scale(0.5609,1)" font-size="40.4" font-family="'DejaVu Sans', 'Liberation Sans', sans-serif" font-weight="200" stroke-width="0.9" class="t" xml:space="preserve">25</text>
<text transform="translate(1125.8,953.6) rotate(-76) scale(0.9524,1) translate(-11,9)" font-size="33.4" font-family="'DejaVu Sans', 'Liberation Sans', sans-serif" font-weight="200" stroke-width="0.9" class="t">ϕ</text>
<text transform="translate(1141,930.2) rotate(-90) scale(0.5851,1)" x="-2.8" font-size="40.4" font-family="'DejaVu Sans', 'Liberation Sans', sans-serif" font-weight="200" stroke-width="0.9" class="t" xml:space="preserve">22</text>
<text transform="translate(1141,877.8) rotate(-90) scale(0.5959,1)" x="-4.4" font-size="40.4" font-family="'DejaVu Sans', 'Liberation Sans', sans-serif" font-weight="200" stroke-width="0.9" class="t" xml:space="preserve">h6</text>
<text transform="translate(1049.5,953.6) rotate(-76) scale(0.9524,1) translate(-11,9)" font-size="33.4" font-family="'DejaVu Sans', 'Liberation Sans', sans-serif" font-weight="200" stroke-width="0.9" class="t">ϕ</text>
<text transform="translate(1064.8,930.2) rotate(-90) scale(0.6154,1)" x="-3.6" font-size="40.4" font-family="'DejaVu Sans', 'Liberation Sans', sans-serif" font-weight="200" stroke-width="0.9" class="t" xml:space="preserve">80</text>
<text transform="translate(1064.8,877.8) rotate(-90) scale(0.5876,1)" x="-3.2" font-size="40.4" font-family="'DejaVu Sans', 'Liberation Sans', sans-serif" font-weight="200" stroke-width="0.9" class="t" xml:space="preserve">g6</text>
<text transform="translate(1278.2,1025.5) scale(0.5315,1)" font-size="40.4" font-family="'DejaVu Sans', 'Liberation Sans', sans-serif" font-weight="200" stroke-width="0.9" class="t" xml:space="preserve">36.5</text>
<text transform="translate(1321.5,1145.5) scale(0.4928,1)" font-size="40.4" font-family="'DejaVu Sans', 'Liberation Sans', sans-serif" font-weight="200" stroke-width="0.9" class="t" xml:space="preserve">10</text>
<text transform="translate(1321.9,1200) scale(0.5910,1)" font-size="40.4" font-family="'DejaVu Sans', 'Liberation Sans', sans-serif" font-weight="200" stroke-width="0.9" class="t" xml:space="preserve">47</text>
<text transform="translate(1525,1200) scale(0.6216,1)" font-size="40.4" font-family="'DejaVu Sans', 'Liberation Sans', sans-serif" font-weight="200" stroke-width="0.9" class="t" xml:space="preserve">8</text>
<text transform="translate(2342.8,752.3) scale(0.6326,1)" font-size="40.4" font-family="'DejaVu Sans', 'Liberation Sans', sans-serif" font-weight="200" stroke-width="0.9" class="t" xml:space="preserve">7</text>
<text transform="translate(2338.7,816.9) scale(0.4833,1)" font-size="40.8" font-family="'DejaVu Sans', 'Liberation Sans', sans-serif" font-weight="200" stroke-width="0.9" class="t" xml:space="preserve">15</text>
<text transform="translate(2370,931) rotate(-76) scale(1.0831,1) translate(-10.7,8.7)" font-size="32.3" font-family="'DejaVu Sans', 'Liberation Sans', sans-serif" font-weight="200" stroke-width="0.9" class="t">ϕ</text>
<text transform="translate(2384.1,920) rotate(-90) scale(0.5559,1)" x="-4.4" font-size="39.7" font-family="'DejaVu Sans', 'Liberation Sans', sans-serif" font-weight="200" stroke-width="0.9" class="t" xml:space="preserve">16G6</text>
<text transform="translate(2426,931.8) rotate(-76) scale(1.0893,1) translate(-10.7,8.7)" font-size="32.3" font-family="'DejaVu Sans', 'Liberation Sans', sans-serif" font-weight="200" stroke-width="0.9" class="t">ϕ</text>
<text transform="translate(2440.1,920.5) rotate(-90) scale(0.5896,1)" x="-3.6" font-size="39.7" font-family="'DejaVu Sans', 'Liberation Sans', sans-serif" font-weight="200" stroke-width="0.9" class="t" xml:space="preserve">80G6</text>
<text transform="translate(2084,1106) scale(0.5349,1)" font-size="40.4" font-family="'DejaVu Sans', 'Liberation Sans', sans-serif" font-weight="200" stroke-width="0.9" class="t" xml:space="preserve">25.5</text>
<text transform="translate(2164.2,1160.2) scale(0.5896,1)" font-size="39.7" font-family="'DejaVu Sans', 'Liberation Sans', sans-serif" font-weight="200" stroke-width="0.9" class="t" xml:space="preserve">58</text>
<text transform="translate(2779.4,462.2) scale(1.0204,1.5611)" font-size="39.9" font-family="'Liberation Serif', 'Noto Serif CJK SC', serif" fill="#000" stroke="none" xml:space="preserve">输入端</text>
<text transform="translate(2837.7,586.2) scale(0.5556,1)" font-size="40" font-family="'DejaVu Sans', 'Liberation Sans', sans-serif" font-weight="200" stroke-width="0.9" class="t" xml:space="preserve">90</text>
<text transform="translate(2908.4,632.8) scale(0.6363,1)" font-size="39.5" font-family="'DejaVu Sans', 'Liberation Sans', sans-serif" font-weight="200" stroke-width="0.9" class="t" xml:space="preserve">5</text>
<text transform="translate(3139.1,911.8) rotate(-90) scale(0.4695,1)" x="-4.4" font-size="39.7" font-family="'DejaVu Sans', 'Liberation Sans', sans-serif" font-weight="200" stroke-width="0.9" class="t" xml:space="preserve">18.3</text>
<text transform="translate(3171.9,678.8) scale(0.6591,1)" font-size="39.7" font-family="'DejaVu Sans', 'Liberation Sans', sans-serif" font-weight="200" stroke-width="0.9" class="t" xml:space="preserve">P</text>
<text transform="translate(3202,678.8) scale(0.4680,1)" font-size="39.7" font-family="'DejaVu Sans', 'Liberation Sans', sans-serif" font-weight="200" stroke-width="0.9" class="t" xml:space="preserve">C</text>
<text transform="translate(3229.1,678.8) scale(0.4901,1)" font-size="39.7" font-family="'DejaVu Sans', 'Liberation Sans', sans-serif" font-weight="200" stroke-width="0.9" class="t" xml:space="preserve">D</text>
<text transform="translate(3268.5,664.5) rotate(14) scale(0.9624,1) translate(-11.7,9.6)" font-size="35.5" font-family="'DejaVu Sans', 'Liberation Sans', sans-serif" font-weight="200" stroke-width="0.9" class="t">ϕ</text>
<text transform="translate(3281.3,678.8) scale(0.5019,1)" font-size="39.7" font-family="'DejaVu Sans', 'Liberation Sans', sans-serif" font-weight="200" stroke-width="0.9" class="t" xml:space="preserve">100</text>
<text transform="translate(2548.2,1128.2) rotate(14) scale(0.9543,1) translate(-11.5,9.4)" font-size="35" font-family="'DejaVu Sans', 'Liberation Sans', sans-serif" font-weight="200" stroke-width="0.9" class="t">ϕ</text>
<text transform="translate(2560.2,1142.5) scale(0.5107,1)" font-size="39.7" font-family="'DejaVu Sans', 'Liberation Sans', sans-serif" font-weight="200" stroke-width="0.9" class="t" xml:space="preserve">120</text>
<text transform="translate(3084.6,1148.6) scale(0.6513,1)" font-size="39.7" font-family="'DejaVu Sans', 'Liberation Sans', sans-serif" font-weight="200" stroke-width="0.9" class="t" xml:space="preserve">4<tspan dy="-3.5">-</tspan><tspan dy="3.5">M</tspan></text>
<text transform="translate(3140,1134.2) rotate(14) scale(0.9201,1) translate(-11.5,9.4)" font-size="35" font-family="'DejaVu Sans', 'Liberation Sans', sans-serif" font-weight="200" stroke-width="0.9" class="t">ϕ</text>
<text transform="translate(3150.5,1148.6) scale(0.6208,1)" font-size="39.7" font-family="'DejaVu Sans', 'Liberation Sans', sans-serif" font-weight="200" stroke-width="0.9" class="t" xml:space="preserve">6</text>
<text transform="translate(1169.3,1699.3) rotate(-90) scale(0.5499,1)" x="-6.4" font-size="39.7" font-family="'DejaVu Sans', 'Liberation Sans', sans-serif" font-weight="200" stroke-width="0.9" class="t" xml:space="preserve">M8x1.25P</text>
<text transform="translate(1246.2,1691.8) scale(0.5402,1)" font-size="39.7" font-family="'DejaVu Sans', 'Liberation Sans', sans-serif" font-weight="200" stroke-width="0.9" class="t" xml:space="preserve">20.5</text>
<text transform="translate(135.8,2043.6) scale(1.0417,1.4414)" font-size="32.8" font-family="'Liberation Serif', 'Noto Serif CJK SC', serif" fill="#000" stroke="none" xml:space="preserve">速比</text>
<text transform="translate(89.8,2108.8) scale(1.0127,1.3827)" font-size="33.8" font-family="'Liberation Serif', 'Noto Serif CJK SC', serif" fill="#000" stroke="none" xml:space="preserve">额定扭距</text>
<text transform="translate(89.1,2174.3) scale(1.0178,1.3976)" font-size="33.8" font-family="'Liberation Serif', 'Noto Serif CJK SC', serif" fill="#000" stroke="none" xml:space="preserve">最大扭距</text>
<text transform="translate(43.5,2239.2) scale(1.0084,1.3656)" font-size="34.2" font-family="'Liberation Serif', 'Noto Serif CJK SC', serif" fill="#000" stroke="none" xml:space="preserve">额定输入转数</text>
<text transform="translate(42.8,2304.3) scale(1.0118,1.3656)" font-size="34.2" font-family="'Liberation Serif', 'Noto Serif CJK SC', serif" fill="#000" stroke="none" xml:space="preserve">最大输入转数</text>
<text transform="translate(86.7,2369.7) scale(1.0417,1.4141)" font-size="33" font-family="'Liberation Serif', 'Noto Serif CJK SC', serif" fill="#000" stroke="none" xml:space="preserve">回程间隙</text>
<text transform="translate(696.5,2043.2) scale(1.0118,1.3756)" font-size="34" font-family="'Liberation Serif', 'Noto Serif CJK SC', serif" fill="#000" stroke="none" xml:space="preserve">正常使用寿命</text>
<text transform="translate(742.7,2109.2) scale(1.0178,1.3925)" font-size="33.9" font-family="'Liberation Serif', 'Noto Serif CJK SC', serif" fill="#000" stroke="none" xml:space="preserve">传递效率</text>
<text transform="translate(786.6,2174.3) scale(1.0695,1.4414)" font-size="32.8" font-family="'Liberation Serif', 'Noto Serif CJK SC', serif" fill="#000" stroke="none" xml:space="preserve">噪音</text>
<text transform="translate(742.3,2239.6) scale(1.0178,1.3925)" font-size="33.9" font-family="'Liberation Serif', 'Noto Serif CJK SC', serif" fill="#000" stroke="none" xml:space="preserve">环境温度</text>
<text transform="translate(789.9,2304.7) scale(1.0417,1.4392)" font-size="32.8" font-family="'Liberation Serif', 'Noto Serif CJK SC', serif" fill="#000" stroke="none" xml:space="preserve">惯量</text>
<text transform="translate(789.5,2371) scale(1.0471,1.4871)" font-size="32.8" font-family="'Liberation Serif', 'Noto Serif CJK SC', serif" fill="#000" stroke="none" xml:space="preserve">重量</text>
<text transform="translate(378.8,2038.2) scale(0.5223,1)" font-size="47" font-family="'DejaVu Sans', 'Liberation Sans', sans-serif" font-weight="200" stroke-width="0.9" class="t" xml:space="preserve">1:60<tspan dy="-4.1">-</tspan><tspan dy="4.1">1</tspan>:1000</text>
<text transform="translate(414.1,2103.8) scale(0.5405,1)" font-size="47" font-family="'DejaVu Sans', 'Liberation Sans', sans-serif" font-weight="200" stroke-width="0.9" class="t" xml:space="preserve">95<tspan dy="-4.1">-</tspan><tspan dy="4.1">1</tspan>45Nm</text>
<text transform="translate(401.6,2168.8) scale(0.5607,1)" font-size="47" font-family="'DejaVu Sans', 'Liberation Sans', sans-serif" font-weight="200" stroke-width="0.9" class="t" xml:space="preserve">180<tspan dy="-4.1">-</tspan><tspan dy="4.1">2</tspan>90Nm</text>
<text transform="translate(403,2234.2) scale(0.5965,1)" font-size="47" font-family="'DejaVu Sans', 'Liberation Sans', sans-serif" font-weight="200" stroke-width="0.9" class="t" xml:space="preserve">4000r/min</text>
<text transform="translate(401.6,2299.2) scale(0.6025,1)" font-size="47" font-family="'DejaVu Sans', 'Liberation Sans', sans-serif" font-weight="200" stroke-width="0.9" class="t" xml:space="preserve">6000r/min</text>
<text transform="translate(378.7,2364.7) scale(0.5416,1)" font-size="47" font-family="'DejaVu Sans', 'Liberation Sans', sans-serif" font-weight="200" stroke-width="0.9" class="t" xml:space="preserve">12<tspan dy="-4.1">-</tspan><tspan dy="4.1">1</tspan>8arcmin</text>
<text transform="translate(1078.9,2038.2) scale(0.6176,1)" font-size="47" font-family="'DejaVu Sans', 'Liberation Sans', sans-serif" font-weight="200" stroke-width="0.9" class="t" xml:space="preserve">20000 h</text>
<text transform="translate(1123.7,2103.8) scale(0.6546,1)" font-size="47" font-family="'DejaVu Sans', 'Liberation Sans', sans-serif" font-weight="200" stroke-width="0.9" class="t" xml:space="preserve">92%</text>
<text transform="translate(1113.4,2168.8) scale(0.5592,1)" font-size="47" font-family="'DejaVu Sans', 'Liberation Sans', sans-serif" font-weight="200" stroke-width="0.9" class="t" xml:space="preserve">66dB</text>
<text transform="translate(1026.7,2234.2) scale(0.6523,1)" font-size="47" font-family="'DejaVu Sans', 'Liberation Sans', sans-serif" font-weight="200" stroke-width="0.9" class="t" xml:space="preserve"><tspan dy="-4.1">-</tspan><tspan dy="4.1">2</tspan>0</text>
<text transform="translate(1093.9,2234.2) scale(0.7504,1)" font-size="47" font-family="'DejaVu Sans', 'Liberation Sans', sans-serif" font-weight="200" stroke-width="0.9" class="t" xml:space="preserve">°C<tspan dy="-4.1">-</tspan></text>
<text transform="translate(1162.5,2234.2) scale(0.4962,1)" font-size="47" font-family="'DejaVu Sans', 'Liberation Sans', sans-serif" font-weight="200" stroke-width="0.9" class="t" xml:space="preserve">+90</text>
<text transform="translate(1251.5,2234.2) scale(0.6360,1)" font-size="47" font-family="'DejaVu Sans', 'Liberation Sans', sans-serif" font-weight="200" stroke-width="0.9" class="t" xml:space="preserve">°C</text>
<text transform="translate(1456.1,2273) scale(1.0753,1.8562)" font-size="39" font-family="'Liberation Serif', 'Noto Serif CJK SC', serif" fill="#000" stroke="none" xml:space="preserve">机</text>
<text transform="translate(1524.9,2274.5) scale(1.0870,1.8318)" font-size="38.7" font-family="'Liberation Serif', 'Noto Serif CJK SC', serif" fill="#000" stroke="none" xml:space="preserve">型</text>
<text transform="translate(1451.7,2366.2) scale(1.2195,1.8926)" font-size="39.1" font-family="'Liberation Serif', 'Noto Serif CJK SC', serif" fill="#000" stroke="none" xml:space="preserve">图</text>
<text transform="translate(1518.9,2366.2) scale(1.0989,1.9260)" font-size="38" font-family="'Liberation Serif', 'Noto Serif CJK SC', serif" fill="#000" stroke="none" xml:space="preserve">号</text>
<text transform="translate(1732.8,2259.8) scale(0.6194,1)" font-size="58.3" font-family="'DejaVu Sans', 'Liberation Sans', sans-serif" font-weight="200" stroke-width="0.8" class="t" xml:space="preserve">PGH90T<tspan dy="-5.1">-</tspan><tspan dy="5.1">L</tspan>3</text>
<text transform="translate(1948.5,2259.8) scale(0.6026,1)" font-size="58.3" font-family="'DejaVu Sans', 'Liberation Sans', sans-serif" font-weight="200" stroke-width="0.8" class="t" xml:space="preserve">16<tspan dy="-5.1">-</tspan><tspan dy="5.1">8</tspan>0<tspan dy="-5.1">-</tspan><tspan dy="5.1">1</tspan>00<tspan dy="-5.1">-</tspan><tspan dy="5.1">M</tspan>6</text>
<text transform="translate(1778.3,2350.9) scale(0.5759,1)" font-size="58.9" font-family="'DejaVu Sans', 'Liberation Sans', sans-serif" font-weight="200" stroke-width="0.8" class="t" xml:space="preserve">RG1214DL<tspan dy="-5.1">-</tspan><tspan dy="5.1">0</tspan>50090<tspan dy="-5.1">-</tspan><tspan dy="5.1">0</tspan>20</text>
<text transform="translate(2256.7,2269.2) scale(1.0638,1.6777)" font-size="39.8" font-family="'Liberation Serif', 'Noto Serif CJK SC', serif" fill="#000" stroke="none" xml:space="preserve">绘</text>
<text transform="translate(2319.7,2269.1) scale(1.0989,1.7670)" font-size="38.2" font-family="'Liberation Serif', 'Noto Serif CJK SC', serif" fill="#000" stroke="none" xml:space="preserve">制</text>
<text transform="translate(2382.4,2269.4) scale(1.5625,2.6471)" font-size="27.6" font-family="'Liberation Serif', 'Noto Serif CJK SC', serif" fill="#000" stroke="none" xml:space="preserve">日</text>
<text transform="translate(2448,2269) scale(1.0753,1.6484)" font-size="41.4" font-family="'Liberation Serif', 'Noto Serif CJK SC', serif" fill="#000" stroke="none" xml:space="preserve">期</text>
<text transform="translate(2285.6,2351.6) scale(0.5454,1)" font-size="59.6" font-family="'DejaVu Sans', 'Liberation Sans', sans-serif" font-weight="200" stroke-width="0.8" class="t" xml:space="preserve">2023.8.7</text>
<text transform="translate(2627.6,2323.3) scale(1.0127,1.3904)" font-size="68.2" font-family="'Liberation Serif', 'Noto Serif CJK SC', serif" fill="#000" stroke="none" xml:space="preserve">行星减速机外形图</text>
</svg>
</body></html>
